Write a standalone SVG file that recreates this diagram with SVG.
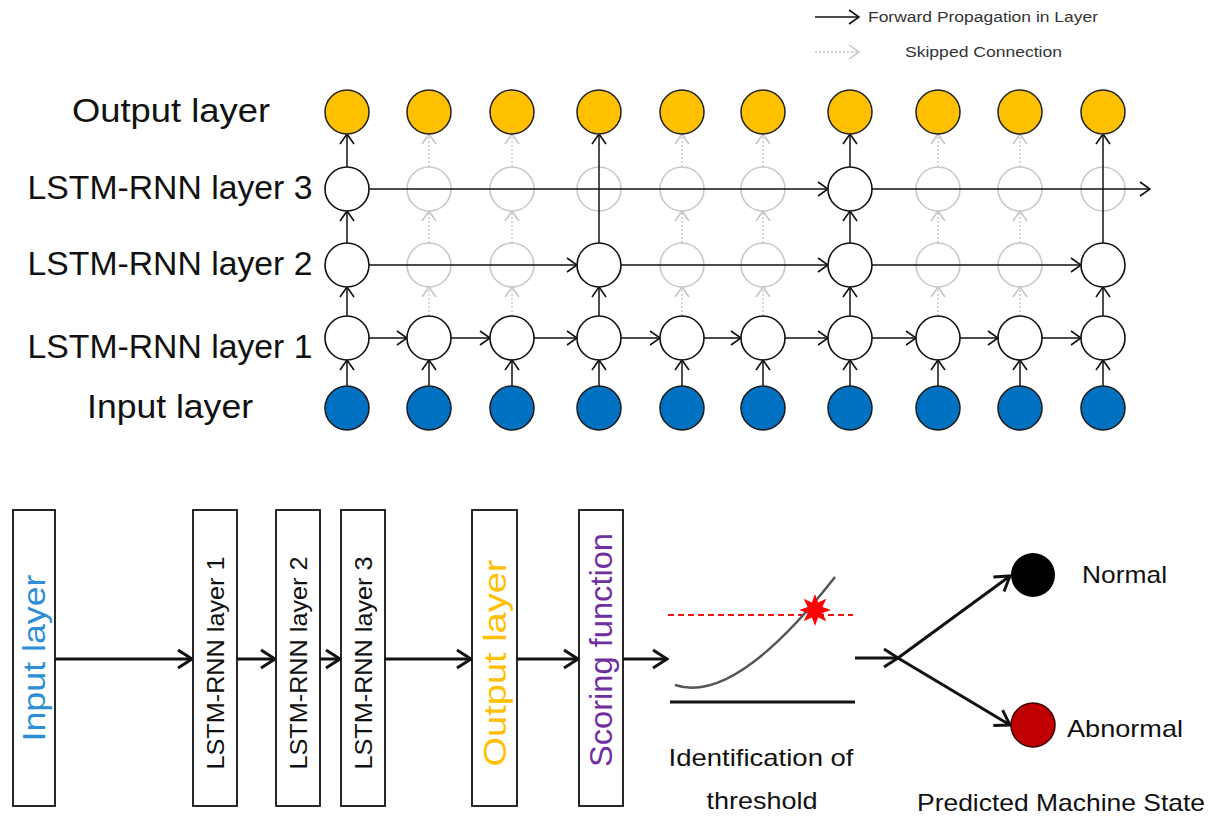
<svg xmlns="http://www.w3.org/2000/svg" width="1219" height="822" viewBox="0 0 1219 822">
<defs>
<style>
text{font-family:"Liberation Sans",Arial,sans-serif;fill:#111}
.lbl{font-size:34px}
.leg{font-size:14px;fill:#333}
.out{fill:#FFC000;stroke:#222;stroke-width:1.5}
.inp{fill:#0070C0;stroke:#1a1a1a;stroke-width:1.5}
.hid{fill:#fff;stroke:#111;stroke-width:1.6}
.ghost{fill:#fff;stroke:#c9c9c9;stroke-width:1.6}
.a{stroke:#111;stroke-width:1.5;fill:none;marker-end:url(#ah)}
.g{stroke:#c4c4c4;stroke-width:1.3;stroke-dasharray:2 2;fill:none;marker-end:url(#gh)}
.b{stroke:#111;stroke-width:3;fill:none;marker-end:url(#bh)}
.box{fill:#fff;stroke:#111;stroke-width:1.8}
.rt{font-size:24px}
</style>
<marker id="ah" viewBox="0 0 12 16" refX="11" refY="8" markerWidth="12" markerHeight="16" markerUnits="userSpaceOnUse" orient="auto"><path d="M1,1 L11,8 L1,15" fill="none" stroke="#111" stroke-width="1.6"/></marker>
<marker id="gh" viewBox="0 0 12 16" refX="11" refY="8" markerWidth="12" markerHeight="16" markerUnits="userSpaceOnUse" orient="auto"><path d="M1,1 L11,8 L1,15" fill="none" stroke="#c4c4c4" stroke-width="1.5"/></marker>
<marker id="bh" viewBox="0 0 18 22" refX="16" refY="11" markerWidth="18" markerHeight="22" markerUnits="userSpaceOnUse" orient="auto"><path d="M2,2 L16,11 L2,20" fill="none" stroke="#111" stroke-width="3"/></marker>
</defs>
<rect width="1219" height="822" fill="#fff"/>

<g id="legend">
<line class="a" x1="815" y1="17" x2="859" y2="17"/>
<text class="leg" x="868" y="22" textLength="230" lengthAdjust="spacingAndGlyphs">Forward Propagation in Layer</text>
<line class="g" x1="815" y1="52" x2="859" y2="52"/>
<text class="leg" x="905" y="57" textLength="157" lengthAdjust="spacingAndGlyphs">Skipped Connection</text>
</g>

<g id="row-labels">
<text class="lbl" x="171" y="122" text-anchor="middle" textLength="198" lengthAdjust="spacingAndGlyphs">Output layer</text>
<text class="lbl" x="170" y="199" text-anchor="middle" textLength="285" lengthAdjust="spacingAndGlyphs">LSTM-RNN layer 3</text>
<text class="lbl" x="170" y="275" text-anchor="middle" textLength="285" lengthAdjust="spacingAndGlyphs">LSTM-RNN layer 2</text>
<text class="lbl" x="170" y="358" text-anchor="middle" textLength="285" lengthAdjust="spacingAndGlyphs">LSTM-RNN layer 1</text>
<text class="lbl" x="170" y="418" text-anchor="middle" textLength="166" lengthAdjust="spacingAndGlyphs">Input layer</text>
</g>

<g id="ghost-nodes">
<circle class="ghost" cx="429" cy="265" r="22"/><circle class="ghost" cx="512" cy="265" r="22"/>
<circle class="ghost" cx="682" cy="265" r="22"/><circle class="ghost" cx="763" cy="265" r="22"/>
<circle class="ghost" cx="938" cy="265" r="22"/><circle class="ghost" cx="1020" cy="265" r="22"/>
<circle class="ghost" cx="429" cy="189" r="22"/><circle class="ghost" cx="512" cy="189" r="22"/>
<circle class="ghost" cx="599" cy="189" r="22"/><circle class="ghost" cx="682" cy="189" r="22"/>
<circle class="ghost" cx="763" cy="189" r="22"/><circle class="ghost" cx="938" cy="189" r="22"/>
<circle class="ghost" cx="1020" cy="189" r="22"/><circle class="ghost" cx="1103" cy="189" r="22"/>
</g>

<g id="connectors-top">
<!-- input to layer 1 -->
<line class="a" x1="347" y1="386" x2="347" y2="360"/><line class="a" x1="429" y1="386" x2="429" y2="360"/>
<line class="a" x1="512" y1="386" x2="512" y2="360"/><line class="a" x1="599" y1="386" x2="599" y2="360"/>
<line class="a" x1="682" y1="386" x2="682" y2="360"/><line class="a" x1="763" y1="386" x2="763" y2="360"/>
<line class="a" x1="850" y1="386" x2="850" y2="360"/><line class="a" x1="938" y1="386" x2="938" y2="360"/>
<line class="a" x1="1020" y1="386" x2="1020" y2="360"/><line class="a" x1="1103" y1="386" x2="1103" y2="360"/>
<!-- layer 1 horizontal -->
<line class="a" x1="369" y1="338" x2="407" y2="338"/><line class="a" x1="451" y1="338" x2="490" y2="338"/>
<line class="a" x1="534" y1="338" x2="577" y2="338"/><line class="a" x1="621" y1="338" x2="660" y2="338"/>
<line class="a" x1="704" y1="338" x2="741" y2="338"/><line class="a" x1="785" y1="338" x2="828" y2="338"/>
<line class="a" x1="872" y1="338" x2="916" y2="338"/><line class="a" x1="960" y1="338" x2="998" y2="338"/>
<line class="a" x1="1042" y1="338" x2="1081" y2="338"/>
<!-- layer 1 to layer 2 -->
<line class="a" x1="347" y1="316" x2="347" y2="287"/><line class="a" x1="599" y1="316" x2="599" y2="287"/>
<line class="a" x1="850" y1="316" x2="850" y2="287"/><line class="a" x1="1103" y1="316" x2="1103" y2="287"/>
<line class="g" x1="429" y1="316" x2="429" y2="287"/><line class="g" x1="512" y1="316" x2="512" y2="287"/>
<line class="g" x1="682" y1="316" x2="682" y2="287"/><line class="g" x1="763" y1="316" x2="763" y2="287"/>
<line class="g" x1="938" y1="316" x2="938" y2="287"/><line class="g" x1="1020" y1="316" x2="1020" y2="287"/>
<!-- layer 2 horizontal -->
<line class="a" x1="369" y1="265" x2="577" y2="265"/><line class="a" x1="621" y1="265" x2="828" y2="265"/>
<line class="a" x1="872" y1="265" x2="1081" y2="265"/>
<!-- layer 2 to layer 3 -->
<line class="a" x1="347" y1="243" x2="347" y2="211"/><line class="a" x1="850" y1="243" x2="850" y2="211"/>
<line class="g" x1="429" y1="243" x2="429" y2="211"/><line class="g" x1="512" y1="243" x2="512" y2="211"/>
<line class="g" x1="682" y1="243" x2="682" y2="211"/><line class="g" x1="763" y1="243" x2="763" y2="211"/>
<line class="g" x1="938" y1="243" x2="938" y2="211"/><line class="g" x1="1020" y1="243" x2="1020" y2="211"/>
<!-- layer 2 straight to output -->
<line class="a" x1="599" y1="243" x2="599" y2="134"/><line class="a" x1="1103" y1="243" x2="1103" y2="134"/>
<!-- layer 3 horizontal -->
<line class="a" x1="369" y1="189" x2="828" y2="189"/><line class="a" x1="872" y1="189" x2="1150" y2="189"/>
<!-- layer 3 to output -->
<line class="a" x1="347" y1="167" x2="347" y2="134"/><line class="a" x1="850" y1="167" x2="850" y2="134"/>
<line class="g" x1="429" y1="167" x2="429" y2="134"/><line class="g" x1="512" y1="167" x2="512" y2="134"/>
<line class="g" x1="682" y1="167" x2="682" y2="134"/><line class="g" x1="763" y1="167" x2="763" y2="134"/>
<line class="g" x1="938" y1="167" x2="938" y2="134"/><line class="g" x1="1020" y1="167" x2="1020" y2="134"/>
</g>

<g id="output-nodes">
<circle class="out" cx="347" cy="112" r="22"/><circle class="out" cx="429" cy="112" r="22"/>
<circle class="out" cx="512" cy="112" r="22"/><circle class="out" cx="599" cy="112" r="22"/>
<circle class="out" cx="682" cy="112" r="22"/><circle class="out" cx="763" cy="112" r="22"/>
<circle class="out" cx="850" cy="112" r="22"/><circle class="out" cx="938" cy="112" r="22"/>
<circle class="out" cx="1020" cy="112" r="22"/><circle class="out" cx="1103" cy="112" r="22"/>
</g>
<g id="layer3-nodes">
<circle class="hid" cx="347" cy="189" r="22"/><circle class="hid" cx="850" cy="189" r="22"/>
</g>
<g id="layer2-nodes">
<circle class="hid" cx="347" cy="265" r="22"/><circle class="hid" cx="599" cy="265" r="22"/>
<circle class="hid" cx="850" cy="265" r="22"/><circle class="hid" cx="1103" cy="265" r="22"/>
</g>
<g id="layer1-nodes">
<circle class="hid" cx="347" cy="338" r="22"/><circle class="hid" cx="429" cy="338" r="22"/>
<circle class="hid" cx="512" cy="338" r="22"/><circle class="hid" cx="599" cy="338" r="22"/>
<circle class="hid" cx="682" cy="338" r="22"/><circle class="hid" cx="763" cy="338" r="22"/>
<circle class="hid" cx="850" cy="338" r="22"/><circle class="hid" cx="938" cy="338" r="22"/>
<circle class="hid" cx="1020" cy="338" r="22"/><circle class="hid" cx="1103" cy="338" r="22"/>
</g>
<g id="input-nodes">
<circle class="inp" cx="347" cy="408" r="22"/><circle class="inp" cx="429" cy="408" r="22"/>
<circle class="inp" cx="512" cy="408" r="22"/><circle class="inp" cx="599" cy="408" r="22"/>
<circle class="inp" cx="682" cy="408" r="22"/><circle class="inp" cx="763" cy="408" r="22"/>
<circle class="inp" cx="850" cy="408" r="22"/><circle class="inp" cx="938" cy="408" r="22"/>
<circle class="inp" cx="1020" cy="408" r="22"/><circle class="inp" cx="1103" cy="408" r="22"/>
</g>

<g id="connectors-bottom">
<line class="b" x1="55" y1="659" x2="192" y2="659"/>
<line class="b" x1="237" y1="659" x2="275" y2="659"/>
<line class="b" x1="320" y1="659" x2="340" y2="659"/>
<line class="b" x1="385" y1="659" x2="471" y2="659"/>
<line class="b" x1="517" y1="659" x2="578" y2="659"/>
<line class="b" x1="623" y1="659" x2="667" y2="659"/>
<line class="b" x1="855" y1="658" x2="898" y2="658"/>
<line class="b" x1="898" y1="658" x2="1010" y2="576"/>
<line class="b" x1="898" y1="658" x2="1010" y2="725"/>
</g>

<g id="box-input">
<rect class="box" x="13" y="510" width="42" height="296"/>
<text transform="translate(34,658) rotate(-90)" text-anchor="middle" dominant-baseline="central" style="font-size:32px;fill:#2C8FD6" textLength="167" lengthAdjust="spacingAndGlyphs">Input layer</text>
</g>
<g id="box-lstm1">
<rect class="box" x="193" y="510" width="44" height="296"/>
<text class="rt" transform="translate(215,663) rotate(-90)" text-anchor="middle" dominant-baseline="central" textLength="213" lengthAdjust="spacingAndGlyphs">LSTM-RNN layer 1</text>
</g>
<g id="box-lstm2">
<rect class="box" x="276" y="510" width="44" height="296"/>
<text class="rt" transform="translate(298,663) rotate(-90)" text-anchor="middle" dominant-baseline="central" textLength="213" lengthAdjust="spacingAndGlyphs">LSTM-RNN layer 2</text>
</g>
<g id="box-lstm3">
<rect class="box" x="341" y="510" width="44" height="296"/>
<text class="rt" transform="translate(363,663) rotate(-90)" text-anchor="middle" dominant-baseline="central" textLength="213" lengthAdjust="spacingAndGlyphs">LSTM-RNN layer 3</text>
</g>
<g id="box-output">
<rect class="box" x="472" y="510" width="45" height="296"/>
<text transform="translate(495,663) rotate(-90)" text-anchor="middle" dominant-baseline="central" style="font-size:32px;fill:#FFC000" textLength="207" lengthAdjust="spacingAndGlyphs">Output layer</text>
</g>
<g id="box-scoring">
<rect class="box" x="579" y="510" width="44" height="296"/>
<text transform="translate(601,650) rotate(-90)" text-anchor="middle" dominant-baseline="central" style="font-size:31px;fill:#7030A0" textLength="234" lengthAdjust="spacingAndGlyphs">Scoring function</text>
</g>

<g id="threshold">
<line x1="668" y1="615" x2="853" y2="615" stroke="#FF1010" stroke-width="2" stroke-dasharray="6 4"/>
<path d="M675,685 Q735,705 835,577" fill="none" stroke="#555" stroke-width="2.5"/>
<polygon points="831,610 822.4,613.1 826.3,621.3 818.1,617.4 815,626 811.9,617.4 803.7,621.3 807.6,613.1 799,610 807.6,606.9 803.7,598.7 811.9,602.6 815,594 818.1,602.6 826.3,598.7 822.4,606.9" fill="#FF0000"/>
<line x1="670" y1="702" x2="855" y2="702" stroke="#111" stroke-width="3"/>
<text class="rt" x="761" y="766" text-anchor="middle" textLength="185" lengthAdjust="spacingAndGlyphs">Identification of</text>
<text class="rt" x="762" y="809" text-anchor="middle" textLength="111" lengthAdjust="spacingAndGlyphs">threshold</text>
</g>

<g id="state-normal">
<circle cx="1033" cy="575" r="22" fill="#000"/>
<text class="rt" x="1082" y="583" textLength="85" lengthAdjust="spacingAndGlyphs">Normal</text>
</g>
<g id="state-abnormal">
<circle cx="1033" cy="725" r="22" fill="#C00000" stroke="#3a0000" stroke-width="1.5"/>
<text class="rt" x="1067" y="737" textLength="116" lengthAdjust="spacingAndGlyphs">Abnormal</text>
</g>
<text class="rt" x="917" y="811" textLength="288" lengthAdjust="spacingAndGlyphs">Predicted Machine State</text>
</svg>
